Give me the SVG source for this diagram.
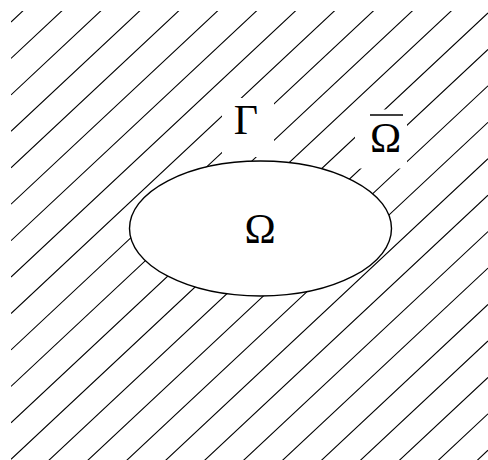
<svg xmlns="http://www.w3.org/2000/svg" width="488" height="460" viewBox="0 0 488 460">
<style>
.hatch{fill:none;stroke:#000;stroke-width:1.1}
.lbl{font-family:"Liberation Serif","Times New Roman",serif;font-size:42px;fill:#000;text-anchor:middle}
.mask{fill:#fff;stroke:none}
</style>
<defs>
<clipPath id="area"><rect x="11" y="11" width="477" height="449"/></clipPath>
</defs>
<rect width="488" height="460" fill="#fff"/>
<g id="hatching" clip-path="url(#area)">
<path class="hatch" d="M11 22L488 -424.3M11 58.44L488 -387.86M11 94.88L488 -351.42M11 131.32L488 -314.98M11 167.76L488 -278.54M11 204.2L488 -242.1M11 240.64L488 -205.66M11 277.08L488 -169.22M11 313.52L488 -132.78M11 349.96L488 -96.34M11 386.4L488 -59.9M11 422.84L488 -23.46M11 459.28L488 12.98M11 495.72L488 49.42M11 532.16L488 85.86M11 568.6L488 122.3M11 605.04L488 158.74M11 641.48L488 195.18M11 677.92L488 231.62M11 714.36L488 268.06M11 750.8L488 304.5M11 787.24L488 340.94M11 823.68L488 377.38M11 860.12L488 413.82M11 896.56L488 450.26"/>
</g>
<g id="omega">
<ellipse cx="260.5" cy="228.5" rx="131" ry="67.5" fill="#fff" stroke="#000" stroke-width="1.4"/>
<text class="lbl" x="260" y="243">Ω</text>
</g>
<g id="gamma">
<rect class="mask" x="222" y="98" width="52" height="59"/>
<text class="lbl" x="246" y="133.5">Γ</text>
</g>
<g id="omega-bar">
<rect class="mask" x="355" y="109.5" width="52" height="59"/>
<line x1="370" y1="115" x2="403" y2="115" stroke="#000" stroke-width="1.6"/>
<text class="lbl" x="385.5" y="151.5">Ω</text>
</g>
</svg>
